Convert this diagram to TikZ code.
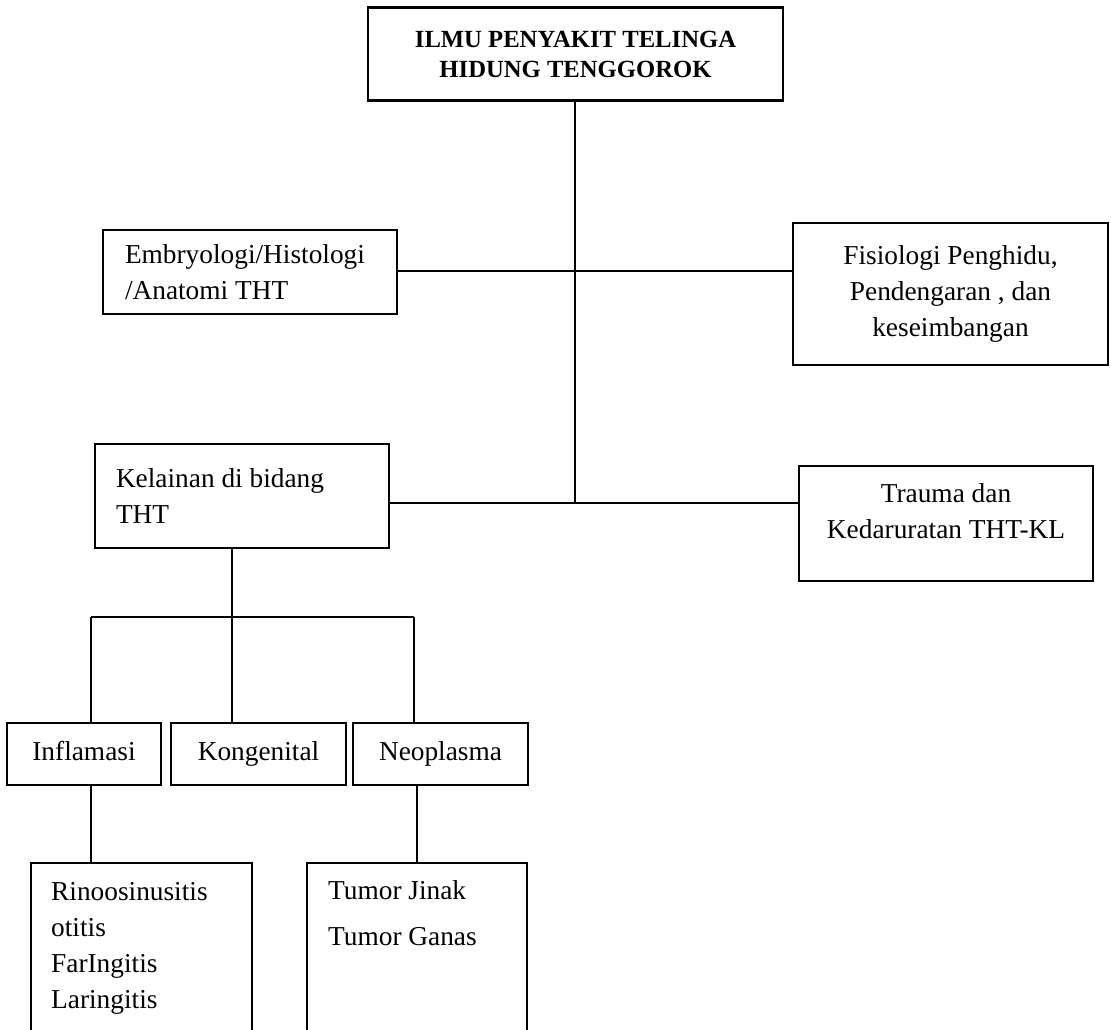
\documentclass[tikz,border=0pt]{standalone}
\usepackage{fontspec}
\setmainfont{Liberation Serif}
\begin{document}
\begin{tikzpicture}[
  x=0.75pt, y=-0.75pt,
  box/.style={draw, line width=1.6pt, inner sep=0pt, font=\fontsize{20.5}{27}\selectfont},
  cbox/.style={box, align=center},
  lbox/.style={box, align=flush left},
  rowbox/.style={cbox, minimum height=46.5pt, text height=14.5pt, text depth=4.5pt},
  txt/.style={inner sep=0pt, align=left, font=\fontsize{20.5}{27}\selectfont},
  link/.style={draw, line width=1.3pt}
]
\useasboundingbox (0,0) rectangle (1111,1029);
\node[cbox, minimum width=311.25pt, minimum height=69.75pt, font=\bfseries\fontsize{18.5}{22.5}\selectfont] (ilmu) at (575.5,54) {ILMU PENYAKIT TELINGA\\HIDUNG TENGGOROK};
\node[lbox, minimum width=220.5pt, minimum height=63pt, text width=187.5pt] (embryo) at (250,272) {Embryologi/Histologi\\/Anatomi THT};
\node[cbox, minimum width=236.25pt, minimum height=106.5pt] (fisio) at (950.5,294) {Fisiologi Penghidu,\\Pendengaran , dan\\keseimbangan};
\node[lbox, minimum width=220.5pt, minimum height=78pt, text width=189pt] (kelainan) at (242,496) {Kelainan di bidang\\THT};
\node[box, minimum width=220.5pt, minimum height=86.25pt] (trauma) at (946,523.5) {};
\node[txt, align=center, yshift=9pt] (traumatext) at (trauma) {Trauma dan\\Kedaruratan THT-KL};
\foreach \name/\x/\w/\lab in {inflamasi/84/115.5pt/Inflamasi, kongenital/258.5/131.25pt/Kongenital, neoplasma/440.5/131.25pt/Neoplasma}
  \node[rowbox, minimum width=\w] (\name) at (\x,754) {\lab};
\node[box, minimum width=165.75pt, minimum height=131.25pt] (rinoo) at (141.5,950.5) {};
\node[box, minimum width=165pt, minimum height=131.25pt] (tumor) at (417,950.5) {};
\node[txt, anchor=north west] (rinootext) at ([xshift=15.75pt, yshift=-15pt]rinoo.north west) {Rinoosinusitis\\otitis\\FarIngitis\\Laringitis};
\node[txt, anchor=north west] (tumortext) at ([xshift=16.5pt, yshift=-13.5pt]tumor.north west) {Tumor Jinak\\[8pt]Tumor Ganas};
\coordinate (hubA) at (575,271);
\coordinate (hubB) at (575,503);
\coordinate (split) at (232,617);
\coordinate (barL) at (91,617);
\coordinate (barR) at (414,617);
\draw[link] (ilmu.south -| hubB) -- (hubB);
\draw[link] (embryo.east |- hubA) -- (fisio.west |- hubA);
\draw[link] (kelainan.east |- hubB) -- (trauma.west |- hubB);
\draw[link] (kelainan.south -| split) -- (split);
\draw[link] (barL) -- (barR);
\foreach \c/\b in {barL/inflamasi, split/kongenital, barR/neoplasma}
  \draw[link] (\c) -- (\c |- \b.north);
\draw[link] (inflamasi.south -| barL) -- (rinoo.north -| barL);
\draw[link] (neoplasma.south -| tumor.north) -- (tumor.north);
\end{tikzpicture}
\end{document}
